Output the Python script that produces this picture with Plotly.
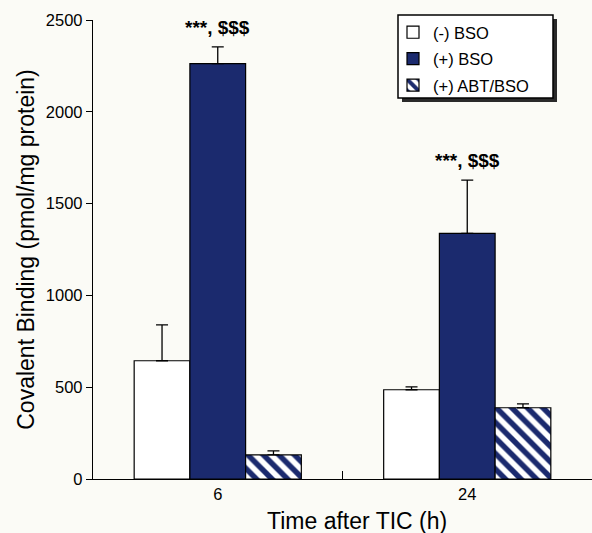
import plotly.graph_objects as go

# Data
categories = ["6", "24"]
series_names = ["(-) BSO", "(+) BSO", "(+) ABT/BSO"]
minus_bso = [644, 486]
minus_bso_err = [196, 16]
plus_bso = [2262, 1338]
plus_bso_err = [92, 290]
abt_bso = [131, 388]
abt_bso_err = [22, 21]
annot_text = ["***, $$$", "***, $$$"]
y_ticks = [0, 500, 1000, 1500, 2000, 2500]

NAVY = "#1b2a6e"
BG = "#fbfbf6"
FONT = "Liberation Sans, Arial, Helvetica, sans-serif"

# plot area geometry (px)
L, R, T, B = 93, 0, 20, 54
W, H = 592, 533
PW = W - L - R
PH = H - T - B


def px_x(p):
    return (p - L) / PW


def px_y(p):
    return (H - B - p) / PH


xpos = list(range(len(categories)))

fig = go.Figure()


def add_bar(name, vals, errs, color, pattern=None, group="a"):
    fig.add_trace(go.Bar(
        x=xpos, y=vals, name=name, legendgroup=group,
        marker=dict(color=color, line=dict(color="black", width=1.2),
                    pattern=pattern if pattern else dict(shape="")),
        error_y=dict(type="data", symmetric=False, array=errs,
                     arrayminus=[0] * len(errs), color="black",
                     thickness=1.3, width=6),
    ))


add_bar(series_names[0], minus_bso, minus_bso_err, "white", group="g1")
add_bar(series_names[1], plus_bso, plus_bso_err, NAVY, group="g2")
add_bar(series_names[2], abt_bso, abt_bso_err, "white",
        pattern=dict(shape="\\", fgcolor=NAVY, bgcolor="white", size=11,
                     solidity=0.5, fgopacity=1, fillmode="replace"),
        group="g3")

# significance annotations above (+) BSO bars
for i, t in enumerate(annot_text):
    fig.add_annotation(x=xpos[i], y=plus_bso[i] + plus_bso_err[i],
                       text="<b>" + t + "</b>",
                       showarrow=False, yanchor="bottom", yshift=7,
                       font=dict(family=FONT, size=19, color="black"),
                       xref="x", yref="y")

# x axis title (slightly right of centre, as in the reference)
fig.add_annotation(x=px_x(357), y=px_y(521), xref="paper", yref="paper",
                   text="Time after TIC (h)", showarrow=False,
                   xanchor="center", yanchor="middle",
                   font=dict(family=FONT, size=23, color="black"))

# legend shadow and box
fig.add_shape(type="rect", xref="paper", yref="paper",
              x0=px_x(402), x1=px_x(557), y0=px_y(102), y1=px_y(19),
              fillcolor="#2a2a2a", line=dict(width=0), layer="above")
fig.add_shape(type="rect", xref="paper", yref="paper",
              x0=px_x(398), x1=px_x(553), y0=px_y(98), y1=px_y(15),
              fillcolor="white", line=dict(width=1.5, color="black"),
              layer="above")

fig.update_layout(
    width=W, height=H,
    margin=dict(l=L, r=R, t=T, b=B),
    paper_bgcolor=BG, plot_bgcolor=BG,
    barmode="group", bargap=0.33, bargroupgap=0,
    font=dict(family=FONT, color="black", size=16),
    showlegend=True,
    legend=dict(x=px_x(393), y=px_y(15), xanchor="left",
                yanchor="top", bgcolor="rgba(0,0,0,0)",
                borderwidth=0, font=dict(size=16.5, family=FONT),
                traceorder="grouped", tracegroupgap=2),
    xaxis=dict(range=[-0.5, 1.5], tickvals=xpos, ticktext=categories,
               ticks="", showline=True, linecolor="black", linewidth=1.3,
               showgrid=False, zeroline=False, tickfont=dict(size=16.5)),
    xaxis2=dict(range=[-0.5, 1.5], overlaying="x", tickvals=[0.5],
                ticks="inside", ticklen=8, tickcolor="black", tickwidth=1.2,
                showticklabels=False, showgrid=False, zeroline=False,
                side="bottom", showline=False),
    yaxis=dict(range=[0, 2500], tickvals=y_ticks, ticks="outside",
               ticklen=6, tickcolor="black", tickwidth=1.2, showline=True,
               linecolor="black", linewidth=1.3, showgrid=False,
               zeroline=False, tickfont=dict(size=16.5),
               title=dict(text="Covalent Binding (pmol/mg protein)",
                          font=dict(size=23), standoff=4)),
)

# invisible trace to activate xaxis2 tick
fig.add_trace(go.Scatter(x=[0.5], y=[0], xaxis="x2", mode="markers",
                         marker=dict(opacity=0), showlegend=False,
                         hoverinfo="skip"))

fig.write_html("out.html")
